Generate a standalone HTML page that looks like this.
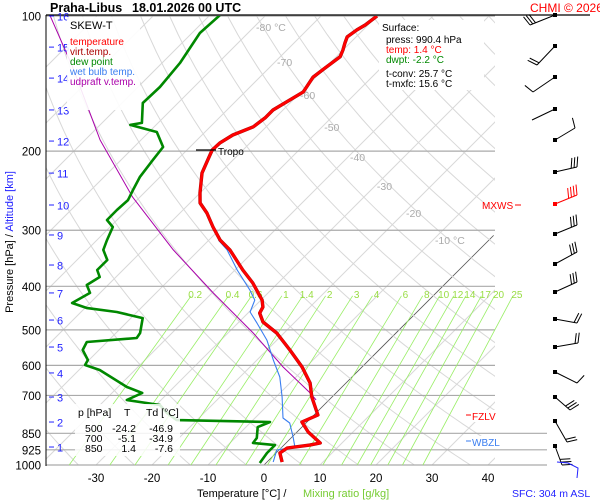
<!DOCTYPE html>
<html><head><meta charset="utf-8"><style>
html,body{margin:0;padding:0;background:#fff;}
svg{display:block;font-family:"Liberation Sans",Arial,sans-serif;}
</style></head><body>
<svg id="chart" width="600" height="500" viewBox="0 0 600 500" xmlns="http://www.w3.org/2000/svg">
<defs><clipPath id="pc"><rect x="46" y="16" width="449" height="449"/></clipPath></defs>
<rect x="0" y="0" width="600" height="500" fill="#fff"/>
<g id="grid" clip-path="url(#pc)"></g>
<g id="plines"></g>
<g id="mix"></g>
<g id="series" clip-path="url(#pc)"></g>
<line x1="46" y1="15" x2="590" y2="15" stroke="#000" stroke-width="1.2"/>
<line x1="46" y1="15" x2="46" y2="466" stroke="#000" stroke-width="1"/>
<text x="50" y="12" font-size="12.5" font-weight="bold">Praha-Libus</text>
<text x="132" y="12" font-size="12.5" font-weight="bold">18.01.2026 00 UTC</text>
<text x="530" y="12" font-size="12" fill="#f00">CHMI © 2026</text>
<g id="axes"></g>
<g>
<rect x="67" y="17" width="73" height="93" fill="#fff" opacity="0.9"/>
<text x="70" y="29" font-size="11">SKEW-T</text>
<text x="70" y="45" font-size="10" fill="#f00">temperature</text>
<text x="70" y="55" font-size="10" fill="#a00">virt.temp.</text>
<text x="70" y="65" font-size="10" fill="#080">dew point</text>
<text x="70" y="75" font-size="10" fill="#3a7ef0">wet bulb temp.</text>
<text x="70" y="85" font-size="10" fill="#a0a">udpraft v.temp.</text>
</g>
<g>
<rect x="379" y="20" width="105" height="70" fill="#fff"/>
<text x="382" y="31" font-size="10">Surface:</text>
<text x="386" y="43" font-size="10">press: 990.4 hPa</text>
<text x="386" y="53" font-size="10" fill="#f00">temp: 1.4 °C</text>
<text x="386" y="63" font-size="10" fill="#080">dwpt: -2.2 °C</text>
<text x="386" y="77" font-size="10">t-conv: 25.7 °C</text>
<text x="386" y="87" font-size="10">t-mxfc: 15.6 °C</text>
</g>
<g>
<rect x="75" y="404" width="105" height="52" fill="#fff" opacity="0.85"/>
<text x="78" y="416" font-size="10.5">p [hPa]</text><text x="124" y="416" font-size="10.5">T</text><text x="146" y="416" font-size="10.5">Td [°C]</text>
<text x="85" y="432" font-size="10.5">500</text><text x="136" y="432" font-size="10.5" text-anchor="end">-24.2</text><text x="173" y="432" font-size="10.5" text-anchor="end">-46.9</text>
<text x="85" y="442" font-size="10.5">700</text><text x="136" y="442" font-size="10.5" text-anchor="end">-5.1</text><text x="173" y="442" font-size="10.5" text-anchor="end">-34.9</text>
<text x="85" y="452" font-size="10.5">850</text><text x="136" y="452" font-size="10.5" text-anchor="end">1.4</text><text x="173" y="452" font-size="10.5" text-anchor="end">-7.6</text>
</g>
<g>
<line x1="196" y1="150" x2="216" y2="150" stroke="#000" stroke-width="1.2"/>
<text x="218" y="155" font-size="10">Tropo</text>
<text x="482" y="209" font-size="10" fill="#f00">MXWS</text>
<line x1="515" y1="205" x2="521" y2="205" stroke="#f00"/>
<rect x="465" y="410" width="43" height="12" fill="#fff"/>
<line x1="466" y1="415" x2="471" y2="415" stroke="#f00"/>
<text x="472" y="420" font-size="10" fill="#f00">FZLV</text>
<rect x="465" y="436" width="40" height="12" fill="#fff"/>
<line x1="466" y1="441" x2="471" y2="441" stroke="#3a7ef0"/>
<text x="472" y="446" font-size="10" fill="#3a7ef0">WBZL</text>
</g>
<text x="197" y="497" font-size="11">Temperature [°C]  /</text>
<text x="303" y="497" font-size="11" fill="#7c3">Mixing ratio [g/kg]</text>
<text transform="translate(13,242) rotate(-90)" font-size="11" text-anchor="middle"><tspan>Pressure [hPa]  /  </tspan><tspan fill="#22f">Altitude [km]</tspan></text>
<text x="512" y="497" font-size="10.5" fill="#22f">SFC: 304 m ASL</text>
<g id="barbs"></g>
</svg>
<script>
const tempP=[100,104.7,107.4,111.3,114.9,119.1,123.3,130.6,136.8,147.6,161.9,168.6,176.5,184.1,191.9,198.8,209.4,223.8,247.8,260.9,274.6,295.1,315.5,331.9,340.6,367.9,393.2,429.2,444.9,458.8,480.4,508.2,554.5,604.9,656.8,705.7,773.9,802.2,844.3,893.3,902.8,916.4,940.3,984.7];
const tempT=[-60.0,-60.5,-61.1,-61.6,-60.9,-60.0,-59.3,-60.0,-60.5,-59.6,-61.8,-61.8,-62.3,-64.5,-65.4,-65.5,-64.5,-63.2,-60.0,-58.2,-55.2,-51.6,-48.0,-44.5,-43.0,-38.6,-34.5,-29.8,-28.4,-27.9,-25.7,-21.3,-15.9,-10.7,-6.4,-3.6,0.7,-0.9,2.0,6.1,4.6,1.1,0.7,2.7];
const dewP=[99.5,109.1,127.3,143.9,156.2,173.0,174.8,181.3,195.8,209.4,228.4,244.1,257.0,270.4,284.6,295.1,315.5,331.9,349.4,367.9,381.4,397.2,413.8,435.6,447.2,456.4,470.7,508.2,521.5,532.2,554.5,583.5,598.8,614.3,670.4,691.3,716.6,735.3,766.2,794.3,802.2,823.4,870.8,893.3,902.8,940.3,989.8];
const dewT=[-88.2,-88.6,-86.8,-86.1,-86.3,-82.9,-84.6,-78.6,-74.8,-74.3,-73.6,-72.5,-71.6,-71.8,-71.8,-69.5,-68.2,-67.1,-64.6,-64.6,-62.9,-63.8,-61.8,-63.2,-59.6,-53.6,-47.9,-45.7,-45.4,-53.6,-52.9,-50.2,-49.8,-46.3,-38.4,-34.6,-36.1,-29.3,-26.6,-23.6,-6.6,-7.9,-6.1,-5.9,-1.6,-1.6,-1.1];
const wetP=[315.5,331.9,367.9,407.5,429.2,456.4,482.9,526.9,583.5,636.8,705.7,785.9,806.4,866.3,911.9,926.0,984.7];
const wetT=[-48.3,-45.0,-39.6,-33.8,-31.1,-29.8,-26.6,-21.8,-17.1,-12.9,-8.9,-5.0,-2.9,0.2,2.3,-0.4,1.1];
const updP=[99.5,130.0,188.9,253.1,331.9,413.8,508.2,604.9,691.3,716.6];
const updT=[-118.6,-105.2,-87.3,-71.3,-54.6,-39.8,-25.5,-14.1,-4.6,-2.3];
const pressureTicks=[100,200,300,400,500,600,700,850,925,1000];
const tempTicks=[-30,-20,-10,0,10,20,30,40];
const altTicks=[16,15,14,13,12,11,10,9,8,7,6,5,4,3,2,1];
const altP=[100,117.3,137.5,161.9,189.9,223.8,263.6,307.4,358.6,413.8,475.5,546.1,623.7,705.7,802.2,911.9];
const mixRatios=[0.2,0.4,0.6,1,1.4,2,3,4,6,8,10,12,14,17,20,25];
const isoLabels=[-80,-70,-60,-50,-40,-30,-20,-10];
const isoLabelP=[105.8,126.6,149.9,176.5,206.1,239.2,274.6,315.5];

const NS='http://www.w3.org/2000/svg';
function yP(p){return 465-449*Math.log10(1000/p);}
function xT(t,p){return 264+5.6*t+(465-yP(p));}
function mk(tag,attrs,parent){const e=document.createElementNS(NS,tag);for(const k in attrs)e.setAttribute(k,attrs[k]);parent.appendChild(e);return e;}
const grid=document.getElementById('grid'),series=document.getElementById('series'),mix=document.getElementById('mix'),axes=document.getElementById('axes'),pl=document.getElementById('plines'),barbs=document.getElementById('barbs');
for(let t=-140;t<=40;t+=10){
  const pTop=t===0?308:100;
  const l=mk('line',{x1:xT(t,1000),y1:yP(1000),x2:xT(t,pTop),y2:yP(pTop),stroke:t===0?'#555':'#d8d8d8','stroke-width':t===0?0.8:1},grid);
  
  
}
for(let th=230;th<=500;th+=10){
  let d='';
  for(let p=1000;p>=100;p-=10){const t=th*Math.pow(p/1000,0.2857)-273.15;d+=(p===1000?'M':'L')+xT(t,p).toFixed(1)+','+yP(p).toFixed(1);}
  const a=mk('path',{d:d,fill:'none',stroke:'#d8d8d8','stroke-width':1},grid);
  
  
}
isoLabels.forEach((t,i)=>{
  const p=isoLabelP[i];
  const tx=mk('text',{x:xT(t,p)+2,y:yP(p)+4,'font-size':10.5,fill:'#aaa'},axes);
  tx.textContent=(t===-80||t===-10)?t+' °C':String(t);
  
  
});
pressureTicks.forEach(p=>{
  const ln=mk('line',{x1:46,y1:yP(p),x2:p>=850?547:495,y2:yP(p),stroke:'#aaa','stroke-width':1.2},pl);
  
  
  const tx=mk('text',{x:41,y:yP(p)+4.5,'font-size':11.5,'text-anchor':'end'},axes);
  tx.textContent=p;
  
  
});
tempTicks.forEach(t=>{
  const tx=mk('text',{x:xT(t,1000),y:482,'font-size':11.5,'text-anchor':'middle'},axes);
  tx.textContent=t;
  
  
});
altTicks.forEach((a,i)=>{
  const y=yP(altP[i]);
  mk('line',{x1:49,y1:y,x2:54,y2:y,stroke:'#22f','stroke-width':1},axes);
  const tx=mk('text',{x:57,y:y+4.5,'font-size':11,fill:'#22f'},axes);
  tx.textContent=a;
  
  
});
function tdw(w,p){const e=w*p/(622+w);const l=Math.log(e/6.112);return 243.5*l/(17.67-l);}
mixRatios.forEach(w=>{
  const ln=mk('line',{x1:xT(tdw(w,1000),1000),y1:yP(1000),x2:xT(tdw(w,420),420),y2:yP(420),stroke:'#9e6','stroke-width':0.8},mix);
  
  
  const tx=mk('text',{x:xT(tdw(w,420),420)+4,y:298,'font-size':10,fill:'#9d4','text-anchor':'middle'},mix);
  tx.textContent=w;
  
  
});
function path(P,T,col,w,name){
  let d='';P.forEach((p,i)=>{d+=(i?'L':'M')+xT(T[i],p).toFixed(1)+','+yP(p).toFixed(1);});
  const e=mk('path',{d:d,fill:'none',stroke:col,'stroke-width':w,'stroke-linejoin':'round'},series);
  
  
}
path(updP,updT,'#a0a',1,'updraft-line');
path(dewP,dewT,'#080',2.6,'dew-point-line');
path(wetP,wetT,'#3a7ef0',1.1,'wet-bulb-line');
path(tempP,tempT,'#a00',3.4,'virt-temp-line');
path(tempP,tempT,'#f00',2.6,'temperature-line');
const barbY=[15,46,77,109,140,172,204,234,264,292,319,347,372,397,421,446];
const barbDX=[-25,-18,-22,-23,20,22,22,22,22,22,22,23,22,15,12,7];
const barbDY=[10,19,15,11,-12,-5,-9,-9,-12,-10,4,-4,11,13,21,19];
const barbN=[3,2,1,0,1,3,4,3,3,3,2,2,1,3,2,3];
barbY.forEach((y,i)=>{
  const col=i===6?'#f00':'#000';
  const g=mk('g',{},barbs);
  
  
  const x0=555,x1=x0+barbDX[i],y1=y+barbDY[i];
  mk('rect',{x:x0-2,y:y-2,width:4,height:4,fill:col},g);
  mk('line',{x1:x0,y1:y,x2:x1,y2:y1,stroke:col,'stroke-width':1},g);
  const L=Math.hypot(barbDX[i],barbDY[i]),ux=barbDX[i]/L,uy=barbDY[i]/L;
  for(let k=0;k<barbN[i];k++){
    const bx=x1-ux*k*3,by=y1-uy*k*3;
    mk('line',{x1:bx,y1:by,x2:bx+(-uy)*10*(ux>0?-1:1)+ux*3,y2:by+ux*10*(ux>0?-1:1)+uy*3,stroke:col,'stroke-width':1},g);
  }
});
mk('polyline',{points:'557,462 568,463 578,468 577,478',fill:'none',stroke:'#22f','stroke-width':1},barbs);
</script>
</body></html>
